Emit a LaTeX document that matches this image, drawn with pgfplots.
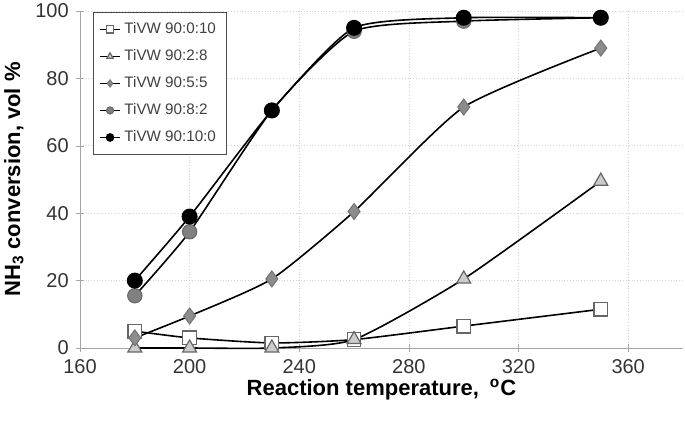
\documentclass[border=0pt]{standalone}
\usepackage{pgfplots}
\pgfplotsset{compat=1.18}
\usepackage{fontspec}
\setmainfont{Liberation Sans}
\begin{document}
\begin{tikzpicture}
\begin{axis}[
    scale only axis,
    width=301.5pt, height=168.5pt,
    xmin=160, xmax=380,
    ymin=0, ymax=100,
    xtick={160,200,...,360},
    ytick={0,20,...,100},
    axis x line=bottom, axis y line=left,
    axis line style={gray!70, -},
    tick style={gray!70},
    grid=major,
    major grid style={gray!35, densely dotted},
    tick label style={font=\fontsize{10}{11}\selectfont, text=black!80},
    /pgf/number format/assume math mode=true,
    xlabel={\textbf{Reaction temperature,\enspace\textsuperscript{o}C}},
    ylabel={\textbf{NH\textsubscript{3} conversion, vol \%}},
    label style={font=\fontsize{11}{13}\selectfont},
    xlabel style={yshift=4pt},
    ylabel style={yshift=-1pt},
    legend style={at={(0.022,0.997)}, anchor=north west, draw=black!70,
        font=\fontsize{7.6}{8}\selectfont, text=black!75, row sep=2.5pt,
        inner xsep=3pt, inner ysep=3pt},
    legend cell align=left,
    legend image code/.code={
        \draw[mark repeat=2, mark phase=2]
            plot coordinates {(0cm,0cm) (0.17cm,0cm) (0.34cm,0cm)};},
    legend image post style={mark size=1.8pt, line width=0.7pt},
    every axis plot/.append style={black, line width=0.8pt, smooth, tension=0.35},
    clip=false,
]
\addplot[mark=square*, mark options={fill=white, draw=black!60, line width=0.6pt}, mark size=3.4pt]
    coordinates {(180,5)(200,3)(230,1.5)(260,2.5)(300,6.5)(350,11.5)};
\addlegendentry{TiVW 90:0:10}
\addplot[mark=triangle*, mark options={fill=black!20, draw=black!60, line width=0.6pt}, mark size=4pt]
    coordinates {(180,0)(200,0)(230,0)(260,2.5)(300,20.5)(350,49.5)};
\addlegendentry{TiVW 90:2:8}
\addplot[mark=diamond*, mark options={fill=black!45, draw=black!55, line width=0.5pt}, mark size=4pt]
    coordinates {(180,3)(200,9.5)(230,20.5)(260,40.5)(300,71.5)(350,89)};
\addlegendentry{TiVW 90:5:5}
\addplot[mark=*, mark options={fill=black!50, draw=black!60, line width=0.5pt}, mark size=3.6pt]
    coordinates {(180,15.5)(200,34.5)(230,70.5)(260,94)(300,97)(350,98)};
\addlegendentry{TiVW 90:8:2}
\addplot[mark=*, mark options={fill=black, draw=black}, mark size=3.6pt]
    coordinates {(180,20)(200,39)(230,70.5)(260,95)(300,98)(350,98)};
\addlegendentry{TiVW 90:10:0}
\end{axis}
\pgfresetboundingbox
\path (current axis.south west) ++(-40pt,-38.5pt) coordinate (bl);
\path (current axis.north east) ++(1pt,5.5pt) coordinate (tr);
\useasboundingbox (bl) rectangle (tr);
\end{tikzpicture}
\end{document}
